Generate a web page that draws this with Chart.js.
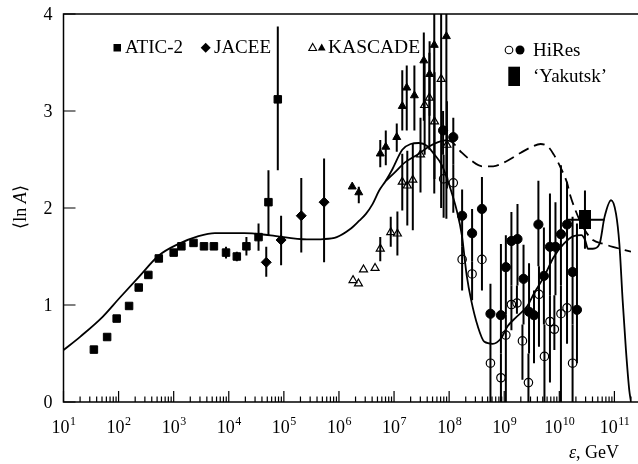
<!DOCTYPE html>
<html><head><meta charset="utf-8">
<script src="https://cdn.jsdelivr.net/npm/chart.js@4"></script>
<style>html,body{margin:0;padding:0;background:#fff}</style>
</head><body>
<canvas id="c" width="638" height="464" style="display:block"></canvas>
<script>
const SERIF = '"Liberation Serif","Times New Roman",serif';

// ---- axis ----
const xMin = 1e1, xMax = 2.0e11;
const yMin = 0, yMax = 4;
const xTickDecades = [1e1,1e2,1e3,1e4,1e5,1e6,1e7,1e8,1e9,1e10,1e11];
const xTickExponents = ['1','2','3','4','5','6','7','8','9','10','11'];
const yTickValues = [0,1,2,3,4];
const yTickLabels = ['0','1','2','3','4'];

// ---- ATIC-2 ----
const aticE   = [3.56e1,6.19e1,9.23e1,1.55e2,2.32e2,3.47e2,5.37e2,1.0e3,1.38e3,2.29e3,3.55e3,5.37e3,8.91e3,1.40e4,2.09e4,3.47e4,5.25e4,7.76e4];
const aticLnA = [0.54,0.67,0.86,0.99,1.18,1.31,1.48,1.54,1.605,1.64,1.605,1.605,1.54,1.50,1.605,1.70,2.06,3.12];
const aticLo  = [null,null,null,null,null,null,null,null,null,null,null,null,1.48,1.45,1.51,1.56,1.72,2.39];
const aticHi  = [null,null,null,null,null,null,null,null,null,null,null,null,1.60,1.55,1.70,1.84,2.39,3.87];

// ---- JACEE ----
const jaceeE   = [4.79e4,8.91e4,2.07e5,5.37e5];
const jaceeLnA = [1.44,1.67,1.92,2.06];
const jaceeLo  = [1.29,1.41,1.54,1.44];
const jaceeHi  = [1.60,1.92,2.31,2.51];

// ---- KASCADE (open) ----
const kasOpenE   = [1.80e6,2.26e6,2.79e6,4.52e6,5.62e6,8.71e6,1.15e7,1.41e7,1.74e7,2.19e7,3.02e7,3.59e7,4.37e7,5.43e7,7.16e7,9.12e7];
const kasOpenLnA = [1.255,1.22,1.365,1.38,1.58,1.75,1.735,2.27,2.23,2.29,2.55,3.06,3.135,2.89,3.33,2.65];
const kasOpenLo  = [null,null,null,null,1.45,1.60,1.51,1.975,1.82,1.77,2.16,2.55,2.60,2.30,2.00,2.20];
const kasOpenHi  = [null,null,null,null,1.70,1.91,1.965,2.56,2.59,2.66,2.93,3.50,3.60,3.40,4.00,3.10];

// ---- KASCADE (filled) ----
const kasFillE   = [1.74e6,2.29e6,5.62e6,7.08e6,1.12e7,1.41e7,1.70e7,2.34e7,3.47e7,4.42e7,5.37e7,8.91e7];
const kasFillLnA = [2.22,2.16,2.56,2.63,2.73,3.05,3.24,3.16,3.52,3.38,3.68,3.77];
const kasFillLo  = [null,2.05,2.42,2.44,2.58,2.80,2.80,2.80,2.90,2.95,2.15,1.89];
const kasFillHi  = [null,2.22,2.70,2.80,2.87,3.42,3.47,3.47,3.81,3.72,4.00,4.00];

// ---- HiRes (filled) ----
const hiresFillE   = [7.76e7,1.19e8,1.72e8,2.61e8,3.94e8,5.62e8,8.71e8,1.07e9,1.35e9,1.74e9,2.24e9,2.82e9,3.47e9,4.17e9,5.25e9,6.76e9,8.51e9,1.07e10,1.38e10,1.74e10,2.09e10];
const hiresFillLnA = [2.80,2.73,1.92,1.74,1.99,0.91,0.895,1.39,1.66,1.68,1.27,0.93,0.895,1.83,1.30,1.60,1.60,1.73,1.83,1.34,0.95];
const hiresFillLo  = [2.55,2.45,1.60,1.45,1.65,0.60,0.50,0.90,1.20,1.20,0.80,0.50,0.40,1.40,0.80,1.10,1.10,1.20,1.30,0.80,0.40];
const hiresFillHi  = [3.00,2.93,2.19,1.99,2.32,1.22,1.63,1.72,1.96,2.04,1.62,1.43,1.15,2.28,1.80,2.15,2.06,2.44,2.27,1.91,1.84];

// ---- HiRes (open) ----
const hiresOpenE   = [7.94e7,1.19e8,1.72e8,2.61e8,3.94e8,5.62e8,8.71e8,1.07e9,1.35e9,1.70e9,2.14e9,2.75e9,4.27e9,5.37e9,6.76e9,8.13e9,1.07e10,1.38e10,1.74e10];
const hiresOpenLnA = [2.30,2.26,1.47,1.32,1.47,0.40,0.25,0.69,1.005,1.02,0.63,0.20,1.11,0.47,0.83,0.75,0.91,0.97,0.40];
const hiresOpenLo  = [1.90,1.95,1.15,1.05,1.15,0.0,0.0,0.0,0.74,0.91,0.23,0.0,0.57,0.0,0.20,0.535,0.0,0.60,0.0];
const hiresOpenHi  = [2.55,2.45,1.60,1.45,1.65,0.60,0.50,0.90,1.20,1.20,0.80,0.50,1.40,0.80,1.10,1.10,1.20,1.30,0.80];

// ---- Yakutsk ----
const yakE = [2.92e10], yakLnA = [1.88], yakLo = [1.58], yakHi = [2.18], yakELo = [1.35e10], yakEHi = [6.61e10];

// ---- model curves ----
const curveSolidE = [1.00e1,2.00e1,5.13e1,1.02e2,2.34e2,5.37e2,1.23e3,2.82e3,5.62e3,1.91e4,5.75e4,2.63e5,5.25e5,9.12e5,1.58e6,2.34e6,3.09e6,4.07e6,5.37e6,7.08e6,9.33e6,1.41e7,2.00e7,2.82e7,3.98e7,5.25e7,7.41e7,1.00e8,1.38e8,1.70e8,2.09e8,2.51e8,3.31e8,4.37e8,6.17e8,8.71e8,1.15e9,1.62e9,2.63e9,3.47e9,5.25e9,7.94e9,1.20e10,1.82e10,2.51e10,2.95e10,3.31e10,4.07e10,5.37e10,6.61e10,8.71e10,1.07e11,1.23e11,1.41e11,1.62e11,1.86e11,2.00e11];
const curveSolidLnA = [0.535,0.672,0.878,1.067,1.29,1.51,1.63,1.71,1.742,1.742,1.718,1.677,1.68,1.70,1.78,1.87,1.94,2.04,2.18,2.28,2.40,2.60,2.66,2.67,2.64,2.56,2.44,2.24,1.97,1.72,1.30,1.05,0.78,0.62,0.60,0.655,0.78,0.87,0.99,1.12,1.29,1.495,1.63,1.71,1.72,1.667,1.58,1.58,1.63,1.906,2.08,1.94,1.63,1.05,0.535,0.123,0.0];
const curveBranchE = [7.08e6,1.00e7,1.58e7,2.82e7,4.47e7,6.31e7,8.91e7];
const curveBranchLnA = [2.28,2.36,2.47,2.56,2.64,2.68,2.70];
const curveDashE = [8.91e7,1.12e8,1.70e8,2.51e8,3.98e8,6.31e8,1.00e9,2.00e9,3.16e9,4.57e9,6.31e9,7.94e9,1.05e10,1.38e10,1.58e10,2.40e10,3.16e10,4.07e10,6.31e10,9.33e10,2.00e11];
const curveDashLnA = [2.70,2.68,2.57,2.49,2.43,2.43,2.47,2.57,2.63,2.66,2.63,2.55,2.42,2.26,2.13,1.86,1.74,1.67,1.63,1.60,1.55];

const pts = (xs, ys) => xs.map((v, i) => ({x: v, y: ys[i]}));

const yakMark = document.createElement('canvas');
yakMark.width = 12; yakMark.height = 19;
{ const g = yakMark.getContext('2d'); g.fillStyle = '#000'; g.fillRect(0, 0, 12, 19); }

function markerSet(label, xs, ys, lo, hi, style, radius, filled) {
  return {
    label, data: pts(xs, ys), errLo: lo, errHi: hi, showLine: false,
    pointStyle: style, pointRadius: radius, pointHoverRadius: radius,
    pointBackgroundColor: filled ? '#000' : 'rgba(0,0,0,0)',
    pointBorderColor: '#000', pointBorderWidth: filled ? 1 : 1.2
  };
}
function curveSet(label, xs, ys, dash) {
  return {
    label, data: pts(xs, ys), showLine: true, pointRadius: 0, pointHoverRadius: 0,
    borderColor: '#000', borderWidth: 1.8, borderDash: dash || [],
    cubicInterpolationMode: 'monotone', fill: false
  };
}

const datasets = [
  markerSet('ATIC-2', aticE, aticLnA, aticLo, aticHi, 'rect', 5.3, true),
  markerSet('JACEE', jaceeE, jaceeLnA, jaceeLo, jaceeHi, 'rectRot', 5, true),
  markerSet('KASCADE open', kasOpenE, kasOpenLnA, kasOpenLo, kasOpenHi, 'triangle', 4.6, false),
  markerSet('KASCADE', kasFillE, kasFillLnA, kasFillLo, kasFillHi, 'triangle', 4.6, true),
  markerSet('HiRes open', hiresOpenE, hiresOpenLnA, hiresOpenLo, hiresOpenHi, 'circle', 4.2, false),
  markerSet('HiRes', hiresFillE, hiresFillLnA, hiresFillLo, hiresFillHi, 'circle', 4.6, true),
  Object.assign(markerSet('Yakutsk', yakE, yakLnA, yakLo, yakHi, yakMark, 6, true), {errXLo: yakELo, errXHi: yakEHi}),
  curveSet('model', curveSolidE, curveSolidLnA),
  curveSet('model branch', curveBranchE, curveBranchLnA),
  curveSet('model dashed', curveDashE, curveDashLnA, [11, 6])
];

const errorBars = {
  id: 'errorBars',
  beforeDatasetsDraw(chart) {
    const {ctx, chartArea: a, scales: {x, y}} = chart;
    ctx.save();
    ctx.beginPath(); ctx.rect(a.left, a.top, a.right - a.left, a.bottom - a.top); ctx.clip();
    ctx.strokeStyle = '#000'; ctx.lineWidth = 2;
    chart.data.datasets.forEach(ds => {
      if (!ds.errLo) return;
      ds.data.forEach((p, i) => {
        const px = x.getPixelForValue(p.x), py = y.getPixelForValue(p.y);
        if (ds.errLo[i] != null) {
          ctx.beginPath();
          ctx.moveTo(px, y.getPixelForValue(ds.errLo[i]));
          ctx.lineTo(px, y.getPixelForValue(ds.errHi[i]));
          ctx.stroke();
        }
        if (ds.errXLo) {
          ctx.beginPath();
          ctx.moveTo(x.getPixelForValue(ds.errXLo[i]), py);
          ctx.lineTo(x.getPixelForValue(ds.errXHi[i]), py);
          ctx.stroke();
        }
      });
    });
    ctx.restore();
  }
};

const frame = {
  id: 'frame',
  afterDraw(chart) {
    const {ctx, chartArea: a, scales: {x, y}} = chart;
    ctx.save();
    ctx.strokeStyle = '#000'; ctx.lineWidth = 1.5;
    ctx.beginPath();
    ctx.moveTo(chart.width, a.top); ctx.lineTo(a.left, a.top); ctx.lineTo(a.left, a.bottom); ctx.lineTo(chart.width, a.bottom);
    ctx.stroke();
    ctx.lineWidth = 1.2;
    ctx.beginPath();
    xTickDecades.forEach(d => {
      const px = x.getPixelForValue(d);
      ctx.moveTo(px, a.bottom); ctx.lineTo(px, a.bottom - 11);
      for (let k = 2; k <= 9; k++) {
        const v = d * k;
        if (v > xMax) break;
        const mx = x.getPixelForValue(v);
        ctx.moveTo(mx, a.bottom); ctx.lineTo(mx, a.bottom - 5.5);
      }
    });
    yTickValues.forEach(v => {
      const py = y.getPixelForValue(v);
      ctx.moveTo(a.left, py); ctx.lineTo(a.left + 12, py);
    });
    ctx.stroke();

    ctx.fillStyle = '#000';
    ctx.textBaseline = 'alphabetic';

    // y tick labels
    ctx.font = '18px ' + SERIF;
    ctx.textAlign = 'right';
    yTickValues.forEach((v, i) => { ctx.fillText(yTickLabels[i], 52.5, y.getPixelForValue(v) + 6); });
    ctx.textAlign = 'left';

    // x tick labels: 10 with superscript exponent
    const baseFont = '18px ' + SERIF, expFont = '12px ' + SERIF;
    xTickDecades.forEach((d, i) => {
      const px = x.getPixelForValue(d);
      ctx.font = baseFont; const w1 = ctx.measureText('10').width;
      ctx.font = expFont; const w2 = ctx.measureText(xTickExponents[i]).width;
      const left = px - (w1 + w2) / 2;
      ctx.font = baseFont; ctx.fillText('10', left, 433);
      ctx.font = expFont; ctx.fillText(xTickExponents[i], left + w1 + 0.5, 425);
    });

    // axis titles
    const parts = [['⟨ln ', 'normal'], ['A', 'italic'], ['⟩', 'normal']];
    const fs = 18;
    let w = 0;
    parts.forEach(p => { ctx.font = p[1] + ' ' + fs + 'px ' + SERIF; w += ctx.measureText(p[0]).width; });
    ctx.save();
    ctx.translate(26, 207);
    ctx.rotate(-Math.PI / 2);
    let cx = -w / 2;
    parts.forEach(p => { ctx.font = p[1] + ' ' + fs + 'px ' + SERIF; ctx.fillText(p[0], cx, 0); cx += ctx.measureText(p[0]).width; });
    ctx.restore();

    const xp = [['ε', 'italic'], [', GeV', 'normal']];
    cx = 569;
    xp.forEach(p => { ctx.font = p[1] + ' ' + fs + 'px ' + SERIF; ctx.fillText(p[0], cx, 458); cx += ctx.measureText(p[0]).width; });

    // legend
    ctx.font = '19px ' + SERIF;
    ctx.fillText('ATIC-2', 125, 53);
    ctx.fillText('JACEE', 214, 53);
    ctx.font = '19.5px ' + SERIF;
    ctx.fillText('KASCADE', 328, 53);
    ctx.font = '19px ' + SERIF;
    ctx.fillText('HiRes', 533, 56);
    ctx.fillText('‘Yakutsk’', 533, 82);
    ctx.fillRect(113.5, 44, 7.5, 7.5);
    ctx.beginPath(); ctx.moveTo(205.7, 42.7); ctx.lineTo(210.7, 47.7); ctx.lineTo(205.7, 52.7); ctx.lineTo(200.7, 47.7); ctx.closePath(); ctx.fill();
    ctx.lineWidth = 1.1;
    ctx.beginPath(); ctx.moveTo(312.7, 43.5); ctx.lineTo(316.6, 50.5); ctx.lineTo(308.8, 50.5); ctx.closePath(); ctx.stroke();
    ctx.beginPath(); ctx.moveTo(321.7, 43.5); ctx.lineTo(325.6, 50.5); ctx.lineTo(317.8, 50.5); ctx.closePath(); ctx.fill();
    ctx.beginPath(); ctx.arc(509, 50, 3.8, 0, Math.PI * 2); ctx.stroke();
    ctx.beginPath(); ctx.arc(520, 50, 4.5, 0, Math.PI * 2); ctx.fill();
    ctx.fillRect(508.3, 66.7, 11.7, 19.3);
    ctx.restore();
  }
};

new Chart(document.getElementById('c'), {
  type: 'scatter',
  data: {datasets},
  plugins: [errorBars, frame],
  options: {
    responsive: false, animation: false, devicePixelRatio: 1,
    layout: {padding: {top: 14, right: 0, left: 0, bottom: 0}},
    plugins: {legend: {display: false}, tooltip: {enabled: false}},
    scales: {
      x: {
        type: 'logarithmic', min: xMin, max: xMax,
        afterBuildTicks: s => { s.ticks = xTickDecades.map(v => ({value: v})); },
        afterFit: s => { s.height = 62; },
        grid: {display: false, drawTicks: false}, border: {display: false},
        ticks: {display: false}
      },
      y: {
        type: 'linear', min: yMin, max: yMax,
        afterBuildTicks: s => { s.ticks = yTickValues.map(v => ({value: v})); },
        afterFit: s => { s.width = 63.5; },
        grid: {display: false, drawTicks: false}, border: {display: false},
        ticks: {display: false}
      }
    }
  }
});
</script>
</body></html>
